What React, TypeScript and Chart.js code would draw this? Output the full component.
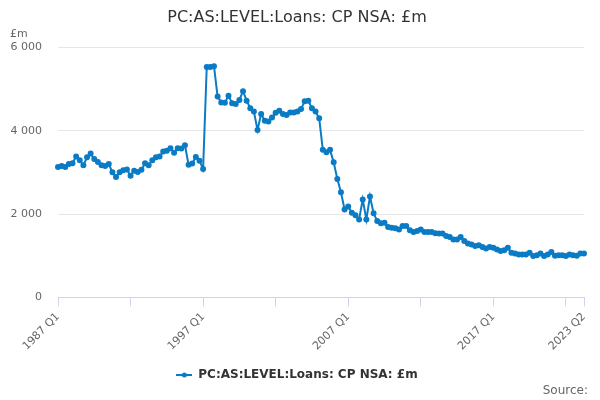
import { useEffect, useRef } from "react"
import { Chart, registerables, type ChartConfiguration, type Plugin } from "chart.js"

Chart.register(...registerables)

const TITLE = "PC:AS:LEVEL:Loans: CP NSA: £m"
const UNIT = "£m"
const SOURCE = "Source:"
const LINE_COLOR = "#0a7bc4"
const FONT = "'DejaVu Sans', sans-serif"

// quarterly categories, 1987 Q1 .. 2023 Q2
const QUARTERS: string[] = []
for (let i = 0; i < 146; i++) QUARTERS.push(`${1987 + Math.floor(i / 4)} Q${(i % 4) + 1}`)

const TICK_LABELS = ["1987 Q1", "1997 Q1", "2007 Q1", "2017 Q1", "2023 Q2"]
const TICK_MARKS = ["1987 Q1", "1992 Q1", "1997 Q1", "2002 Q1", "2007 Q1", "2012 Q1", "2017 Q1", "2022 Q1", "2023 Q2"]
const Y_TICKS = [0, 2000, 4000, 6000]

const LOANS = [
  3130, 3150, 3130, 3200, 3220, 3380, 3290, 3170, 3360, 3450,
  3320, 3250, 3170, 3150, 3200, 3000, 2890, 3000, 3050, 3070,
  2920, 3040, 3010, 3060, 3220, 3170, 3290, 3360, 3380, 3500,
  3520, 3580, 3470, 3580, 3570, 3650, 3180, 3210, 3370, 3280,
  3080, 5530, 5530, 5550, 4820, 4680, 4670, 4840, 4660, 4640,
  4740, 4950, 4720, 4540, 4460, 4020, 4400, 4240, 4220, 4320,
  4430, 4480, 4400, 4380, 4440, 4440, 4460, 4520, 4710, 4720,
  4540, 4460, 4300, 3540, 3480, 3540, 3240, 2840, 2520, 2110,
  2180, 2030, 1970, 1870, 2350, 1870, 2420, 2020, 1830, 1780,
  1790, 1690, 1670, 1660, 1630, 1710, 1710, 1610, 1570, 1590,
  1630, 1570, 1570, 1570, 1540, 1530, 1530, 1470, 1450, 1390,
  1390, 1450, 1350, 1290, 1270, 1230, 1250, 1210, 1170, 1210,
  1190, 1150, 1110, 1130, 1190, 1070, 1050, 1030, 1030, 1030,
  1070, 990, 1010, 1050, 990, 1030, 1090, 1000, 1010, 1010,
  990, 1030, 1010, 1000, 1050, 1050,
]

function legendSymbol() {
  const c = document.createElement("canvas")
  c.width = 16
  c.height = 6
  const g = c.getContext("2d")!
  g.strokeStyle = LINE_COLOR
  g.lineWidth = 2
  g.beginPath(); g.moveTo(0, 3); g.lineTo(16, 3); g.stroke()
  g.fillStyle = LINE_COLOR
  g.beginPath(); g.arc(8, 3, 2.5, 0, Math.PI * 2); g.fill()
  return c
}

const sourcePlugin: Plugin = {
  id: "sourceText",
  afterDraw(chart) {
    const ctx = chart.ctx
    ctx.save()
    ctx.font = `12px ${FONT}`
    ctx.fillStyle = "#666"
    ctx.textAlign = "right"
    ctx.textBaseline = "middle"
    ctx.fillText(SOURCE, 588, 391)
    ctx.restore()
  },
}

export default function App() {
  const canvasRef = useRef<HTMLCanvasElement>(null)

  useEffect(() => {
    if (!canvasRef.current) return
    const config: ChartConfiguration<"line"> = {
      type: "line",
      data: {
        labels: QUARTERS,
        datasets: [
          {
            label: TITLE,
            data: LOANS,
            borderColor: LINE_COLOR,
            backgroundColor: LINE_COLOR,
            borderWidth: 2,
            pointRadius: 2,
            pointHoverRadius: 3,
            tension: 0,
          },
        ],
      },
      options: {
        animation: false,
        responsive: true,
        maintainAspectRatio: false,
        layout: { padding: { left: 10, right: 16, top: 0, bottom: 9 } },
        plugins: {
          title: {
            display: true,
            text: TITLE,
            color: "#333",
            font: { family: FONT, size: 16, weight: "normal" },
            padding: { top: 8, bottom: 0 },
          },
          subtitle: {
            display: true,
            text: UNIT,
            align: "start",
            color: "#666",
            font: { family: FONT, size: 11 },
            padding: { top: 0, bottom: 7 },
          },
          legend: {
            position: "bottom",
            labels: {
              usePointStyle: true,
              pointStyle: legendSymbol(),
              pointStyleWidth: 16,
              color: "#333",
              font: { family: FONT, size: 12, weight: "bold" },
              padding: 8,
            },
          },
          tooltip: { enabled: false },
        },
        scales: {
          x: {
            // the rotated first label may hang into the y-axis gutter; pad the axis so the legend sits lower
            afterFit: scale => {
              scale.paddingLeft = 0
              scale.paddingRight = 0
              scale.height += 4
            },
            grid: {
              drawOnChartArea: false,
              tickLength: 9,
              color: c => (TICK_MARKS.includes(QUARTERS[c.index]) ? "#ccd6eb" : "transparent"),
            },
            border: { color: "#ccd6eb", width: 1 },
            ticks: {
              autoSkip: false,
              minRotation: 45,
              maxRotation: 45,
              padding: 4,
              color: "#666",
              font: { family: FONT, size: 11 },
              callback: (_v, i) => (TICK_LABELS.includes(QUARTERS[i]) ? QUARTERS[i] : ""),
            },
          },
          y: {
            min: 0,
            max: 6000,
            afterBuildTicks: axis => { axis.ticks = Y_TICKS.map(value => ({ value })) },
            afterFit: scale => { scale.width = 48 },
            grid: { color: "#e6e6e6", drawTicks: false },
            border: { display: false },
            ticks: {
              padding: 16,
              color: "#666",
              font: { family: FONT, size: 11 },
              callback: v => String(v).replace(/\B(?=(\d{3})+(?!\d))/g, " "),
            },
          },
        },
      },
      plugins: [sourcePlugin],
    }
    const chart = new Chart(canvasRef.current, config)
    return () => chart.destroy()
  }, [])

  return (
    <div style={{ position: "absolute", left: 0, top: 0, width: 600, height: 400, background: "#fff" }}>
      <canvas ref={canvasRef} role="img" aria-label={TITLE} />
    </div>
  )
}
